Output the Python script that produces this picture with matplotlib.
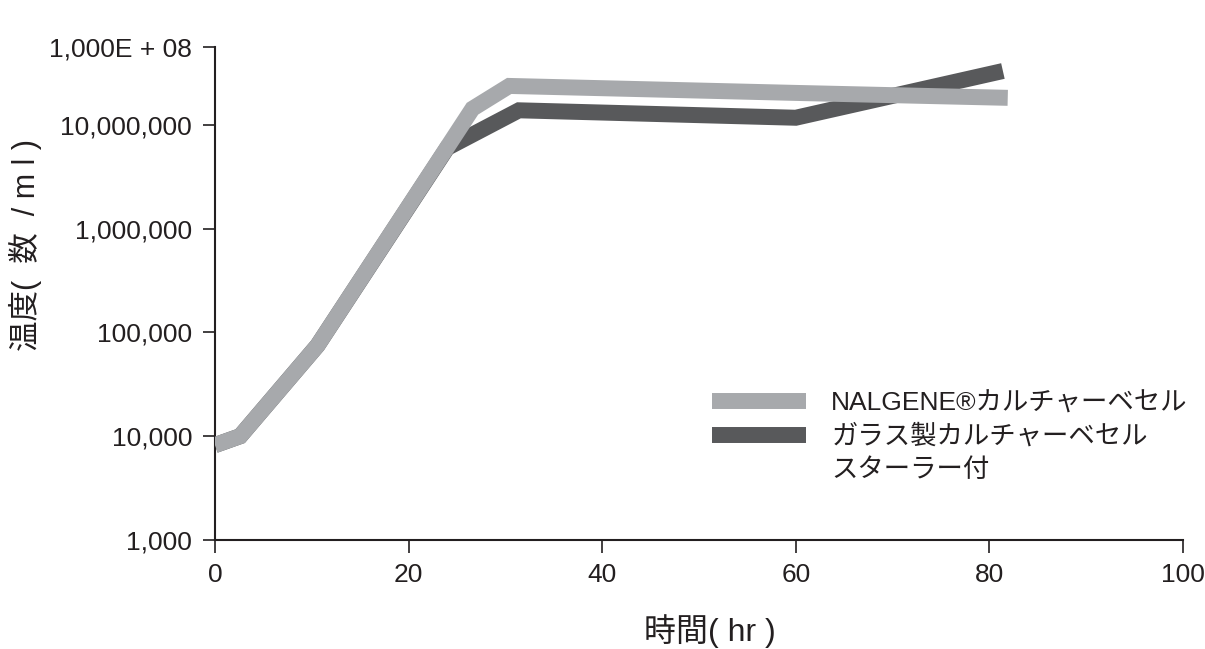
import numpy as np
import matplotlib
matplotlib.use("Agg")
import matplotlib.pyplot as plt
from matplotlib.lines import Line2D

plt.rcParams['font.family'] = ['Liberation Sans', 'Noto Sans CJK JP', 'DejaVu Sans']

# --- datos ---
horas_nalgene = [0, 2.6, 10.6, 26.6, 30.4, 60, 81.9]
conc_nalgene = [8200, 10000, 75000, 1.43e7, 2.37e7, 2.03e7, 1.82e7]

horas_vidrio = [0, 2.6, 10.6, 24.0, 31.4, 60, 81.4]
conc_vidrio = [8200, 10000, 75000, 6.0e6, 1.38e7, 1.17e7, 3.3e7]

etiqueta_nalgene = "NALGENE®カルチャーベセル"
etiqueta_vidrio = "ガラス製カルチャーベセル"
etiqueta_vidrio_2 = "スターラー付"

yticks = [1e3, 1e4, 1e5, 1e6, 1e7, 10 ** 7.75]
ytick_labels = ["1,000", "10,000", "100,000", "1,000,000", "10,000,000", "1,000E + 08"]
xticks = [0, 20, 40, 60, 80, 100]

GRIS_CLARO = '#a7a9ac'
GRIS_OSCURO = '#58595b'
NEGRO = '#231f20'

fig = plt.figure(figsize=(12.05, 6.49), dpi=100)
ax = fig.add_axes([0.1784, 0.168, 0.8033, 0.7596])

ax.plot(horas_vidrio, conc_vidrio, color=GRIS_OSCURO, lw=11.5,
        solid_capstyle='butt', solid_joinstyle='miter', zorder=2)
ax.plot(horas_nalgene, conc_nalgene, color=GRIS_CLARO, lw=11.5,
        solid_capstyle='butt', solid_joinstyle='miter', zorder=3)

ax.set_yscale('log')
ax.set_xlim(0, 100)
ax.set_ylim(1e3, 10 ** 7.75)
ax.set_yticks(yticks)
ax.set_yticklabels(ytick_labels)
ax.yaxis.set_minor_locator(matplotlib.ticker.NullLocator())
ax.set_xticks(xticks)
ax.set_xticklabels([str(v) for v in xticks])

for s in ['top', 'right']:
    ax.spines[s].set_visible(False)
for s in ['left', 'bottom']:
    ax.spines[s].set_linewidth(1.5)
    ax.spines[s].set_color(NEGRO)
ax.tick_params(direction='out', length=9, width=1.2, color=NEGRO,
               labelsize=19, labelcolor=NEGRO, pad=7.5)

fig.text(0.589, 0.027, "時間( hr )", fontsize=23, color=NEGRO, ha='center', va='center')
fig.text(0.0215, 0.6225, "温度(  数  / m l )", fontsize=22, color=NEGRO,
         ha='center', va='center', rotation=90)

# leyenda (la segunda entrada ocupa dos renglones)
handles = [Line2D([], [], color=GRIS_CLARO, lw=11.5, solid_capstyle='butt'),
           Line2D([], [], color=GRIS_OSCURO, lw=11.5, solid_capstyle='butt'),
           Line2D([], [], color='none', lw=0)]
labels = [etiqueta_nalgene, etiqueta_vidrio, etiqueta_vidrio_2]
leg = ax.legend(handles, labels, loc='upper left', bbox_to_anchor=(699 / 1205, 1 - 378 / 649),
                bbox_transform=fig.transFigure, frameon=False, fontsize=19,
                handlelength=3.56, handletextpad=0.95, borderpad=0, labelspacing=0.35)
for t in leg.get_texts():
    t.set_color(NEGRO)

fig.savefig("out.png", dpi=100)
